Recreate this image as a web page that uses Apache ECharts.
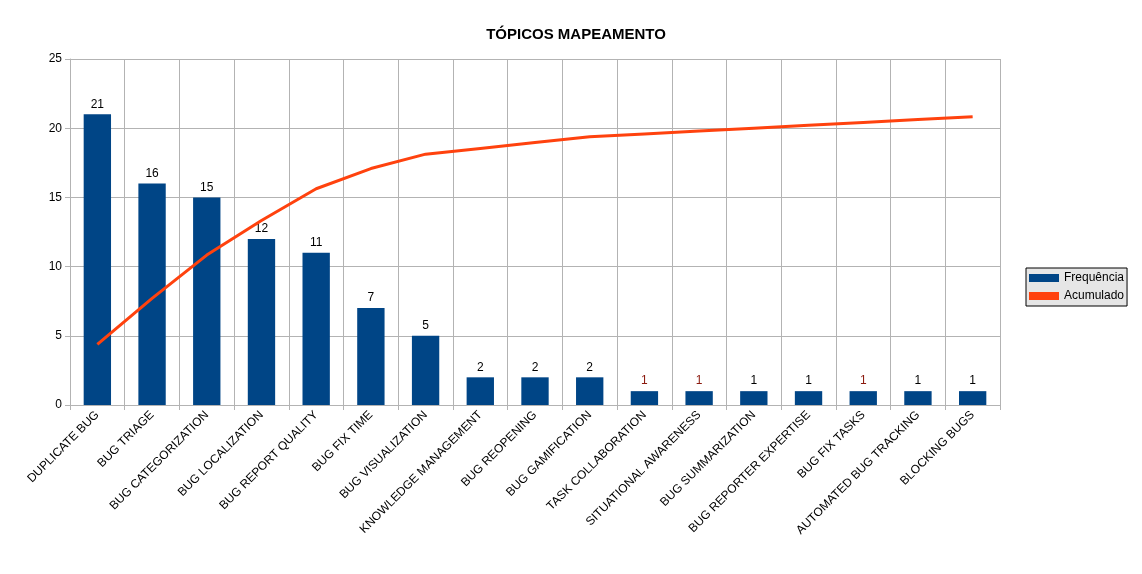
<!DOCTYPE html>
<html><head><meta charset="utf-8">
<script src="https://cdn.jsdelivr.net/npm/echarts@6/dist/echarts.min.js"></script>
<style>html,body{margin:0;padding:0;background:#fff}#c{width:1142px;height:574px}</style>
</head><body><div id="c"></div>
<script>
const categories = ['DUPLICATE BUG','BUG TRIAGE','BUG CATEGORIZATION','BUG LOCALIZATION','BUG REPORT QUALITY','BUG FIX TIME','BUG VISUALIZATION','KNOWLEDGE MANAGEMENT','BUG REOPENING','BUG GAMIFICATION','TASK COLLABORATION','SITUATIONAL AWARENESS','BUG SUMMARIZATION','BUG REPORTER EXPERTISE','BUG FIX TASKS','AUTOMATED BUG TRACKING','BLOCKING BUGS'];
const frequencia = [21,16,15,12,11,7,5,2,2,2,1,1,1,1,1,1,1];
const acumulado = [21,37,52,64,75,82,87,89,91,93,94,95,96,97,98,99,100];
const redLabels = [10,11,14];

const chart = echarts.init(document.getElementById('c'));
chart.setOption({
  animation: false,
  textStyle: { fontFamily: 'Liberation Sans' },
  title: { text: 'TÓPICOS MAPEAMENTO', left: 571, top: 22, textAlign: 'center',
    textStyle: { fontSize: 15, fontWeight: 'bold', color: '#000' } },
  legend: {
    orient: 'vertical', left: 1026, top: 268, itemGap: 6, itemWidth: 30, itemHeight: 8,
    backgroundColor: '#e6e6e6', borderColor: '#000', borderWidth: 1, padding: [4, 3, 4, 3],
    textStyle: { fontSize: 12, color: '#000' },
    data: [{ name: 'Frequência', icon: 'rect' }, { name: 'Acumulado', icon: 'rect', itemStyle: { color: '#ff420e' } }]
  },
  grid: { left: 70, right: 142, top: 59, bottom: 169 },
  xAxis: {
    type: 'category', data: categories,
    axisLine: { lineStyle: { color: '#b3b3b3' } },
    axisTick: { show: true, length: 5, lineStyle: { color: '#b3b3b3' } },
    splitLine: { show: true, lineStyle: { color: '#b3b3b3' } },
    axisLabel: { rotate: 45, fontSize: 12, color: '#000', interval: 0, margin: 8 }
  },
  yAxis: [
    { type: 'value', min: 0, max: 25, interval: 5,
      axisLine: { show: true, lineStyle: { color: '#b3b3b3' } },
      axisTick: { show: true, length: 5, lineStyle: { color: '#b3b3b3' } },
      splitLine: { lineStyle: { color: '#b3b3b3' } },
      axisLabel: { fontSize: 12, color: '#000' } },
    { type: 'value', min: 0, max: 120, show: false }
  ],
  series: [
    { name: 'Frequência', type: 'bar', barWidth: '50%', itemStyle: { color: '#004586' },
      data: frequencia.map((v, i) => ({ value: v, label: { color: redLabels.includes(i) ? '#8b1a0e' : '#000' } })),
      label: { show: true, position: 'top', fontSize: 12, distance: 4 } },
    { name: 'Acumulado', type: 'line', yAxisIndex: 1, data: acumulado, symbol: 'none',
      lineStyle: { color: '#ff420e', width: 3 }, itemStyle: { color: '#ff420e' },
      label: { show: true, position: 'right', fontSize: 12, fontWeight: 'bold', color: '#000', offset: [-4, 3] } }
  ]
});
</script></body></html>
